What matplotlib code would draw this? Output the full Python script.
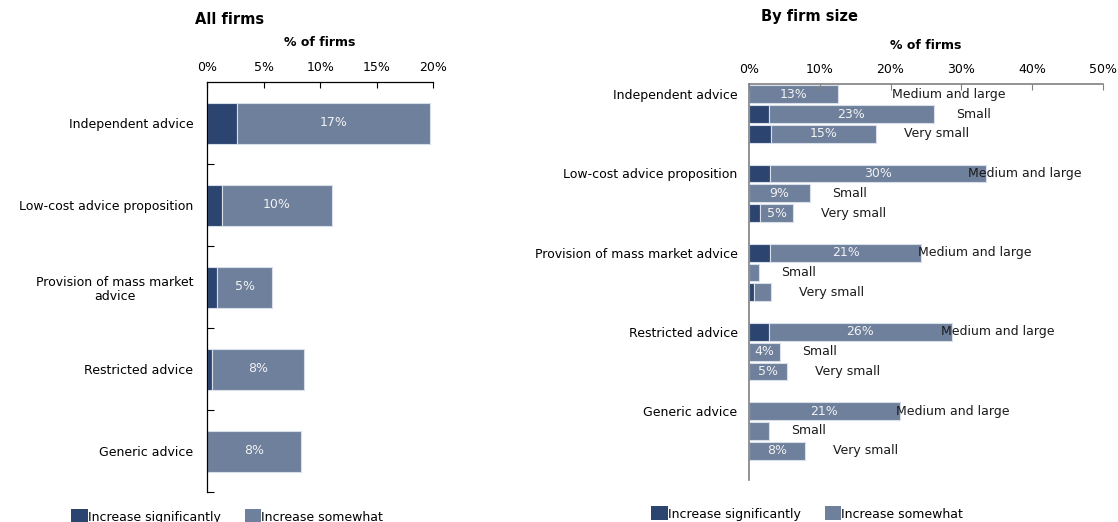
import matplotlib
matplotlib.use("Agg")
import matplotlib.pyplot as plt
from matplotlib.patches import Patch
import numpy as np

plt.rcParams['font.family'] = ['DejaVu Sans']

# ---------------- data ----------------
categories = ["Independent advice", "Low-cost advice proposition",
              "Provision of mass market\nadvice", "Restricted advice", "Generic advice"]
all_sig = [2.6, 1.3, 0.9, 0.4, 0.0]
all_some = [17.1, 9.7, 4.8, 8.2, 8.3]

sizes = ["Medium and large", "Small", "Very small"]
# rows: categories, columns: sizes
size_sig = [[0.0, 2.8, 3.1],
            [3.0, 0.0, 1.55],
            [3.0, 0.0, 0.75],
            [2.8, 0.0, 0.0],
            [0.0, 0.0, 0.0]]
size_some = [[12.6, 23.3, 14.9],
             [30.4, 8.7, 4.75],
             [21.3, 1.46, 2.35],
             [25.8, 4.4, 5.45],
             [21.3, 2.87, 7.9]]

left_ticks = [0, 5, 10, 15, 20]
right_ticks = [0, 10, 20, 30, 40, 50]

DARK = "#2c4570"
LIGHT = "#6f809c"
EDGE = "#d8deea"
LBL = "#f2f2f2"
FS = 9

W, H = 1118, 522
fig = plt.figure(figsize=(W / 100, H / 100), dpi=100)

def px_axes(x0, y0, x1, y1):
    return fig.add_axes([x0 / W, 1 - y1 / H, (x1 - x0) / W, (y1 - y0) / H])

# ---------------- left panel ----------------
ax1 = px_axes(207.3, 82, 433.3, 492)
n = len(categories)
y = np.arange(n) + 0.5
ax1.barh(y, all_sig, height=0.5, color=DARK, edgecolor=EDGE, linewidth=0.8)
ax1.barh(y, all_some, left=all_sig, height=0.5, color=LIGHT, edgecolor=EDGE, linewidth=0.8)
for yi, s, v in zip(y, all_sig, all_some):
    ax1.text(s + v / 2, yi, "%.0f%%" % v, ha="center", va="center", color=LBL, fontsize=FS)
ax1.set_xlim(left_ticks[0], left_ticks[-1])
ax1.set_ylim(n, 0)
ax1.xaxis.tick_top()
ax1.set_xticks(left_ticks)
ax1.set_xticklabels(["%d%%" % t for t in left_ticks], fontsize=FS)
ax1.tick_params(axis="x", direction="in", length=4, pad=6, width=0.8)
ax1.set_yticks(np.arange(1, n + 1))
ax1.set_yticklabels([])
ax1.set_yticks(y, minor=True)
ax1.set_yticklabels(categories, minor=True, fontsize=FS, multialignment="center")
ax1.tick_params(axis="y", which="major", direction="in", length=5, width=0.8)
ax1.tick_params(axis="y", which="minor", length=0, pad=10)
for sp in ("right", "bottom"):
    ax1.spines[sp].set_visible(False)
for sp in ("left", "top"):
    ax1.spines[sp].set_linewidth(0.9)
fig.text(195 / W, 1 - 19 / H, "All firms", fontsize=10.5, fontweight="bold", ha="left", va="center")
fig.text(320 / W, 1 - 42.5 / H, "% of firms", fontsize=9, fontweight="bold", ha="center", va="center")

# ---------------- right panel ----------------
ax2 = px_axes(748.7, 84, 1103.3, 480)
pitch = 0.25
bh = 0.227
first = 0.13
ml_off = [7.6, -2.5, -0.47, -1.47, -0.52]
size_off = [None, 3.1, 3.95]
for g in range(n):
    for k in range(len(sizes)):
        yy = g + first + pitch * k
        s = size_sig[g][k]
        v = size_some[g][k]
        ax2.barh(yy, s, height=bh, color=DARK, edgecolor=EDGE, linewidth=0.8)
        ax2.barh(yy, v, left=s, height=bh, color=LIGHT, edgecolor=EDGE, linewidth=0.8)
        if v >= 3.5:
            ax2.text(s + v / 2, yy, "%.0f%%" % v, ha="center", va="center", color=LBL, fontsize=FS)
        off = ml_off[g] if k == 0 else size_off[k]
        ax2.text(s + v + off, yy, sizes[k], ha="left", va="center", color="#1a1a1a", fontsize=FS)
ax2.set_xlim(right_ticks[0], right_ticks[-1])
ax2.set_ylim(n, 0)
ax2.xaxis.tick_top()
ax2.set_xticks(right_ticks)
ax2.set_xticklabels(["%d%%" % t for t in right_ticks], fontsize=FS)
ax2.tick_params(axis="x", direction="in", length=4, pad=6, width=0.8, color="#808080")
ax2.set_yticks(np.arange(n) + first)
ax2.set_yticklabels([c.replace("\n", " ") for c in categories], fontsize=FS)
ax2.tick_params(axis="y", length=0, pad=8)
for sp in ("right", "bottom"):
    ax2.spines[sp].set_visible(False)
for sp in ("left", "top"):
    ax2.spines[sp].set_color("#808080")
    ax2.spines[sp].set_linewidth(1.2)
fig.text(761 / W, 1 - 17 / H, "By firm size", fontsize=10.5, fontweight="bold", ha="left", va="center")
fig.text(926 / W, 1 - 45 / H, "% of firms", fontsize=9, fontweight="bold", ha="center", va="center")

# ---------------- legends ----------------
handles = [Patch(facecolor=DARK, edgecolor="none"), Patch(facecolor=LIGHT, edgecolor="none")]
labels = ["Increase significantly", "Increase somewhat"]
for x0, yb in ((71, 522), (651, 519)):
    fig.legend(handles, labels, loc="lower left", bbox_to_anchor=(x0 / W, 1 - yb / H - 0.003),
               ncol=2, frameon=False, fontsize=FS, handlelength=1.35, handleheight=1.35,
               handletextpad=0.0, columnspacing=1.9, borderpad=0, borderaxespad=0)

fig.savefig("out.png", dpi=100)
